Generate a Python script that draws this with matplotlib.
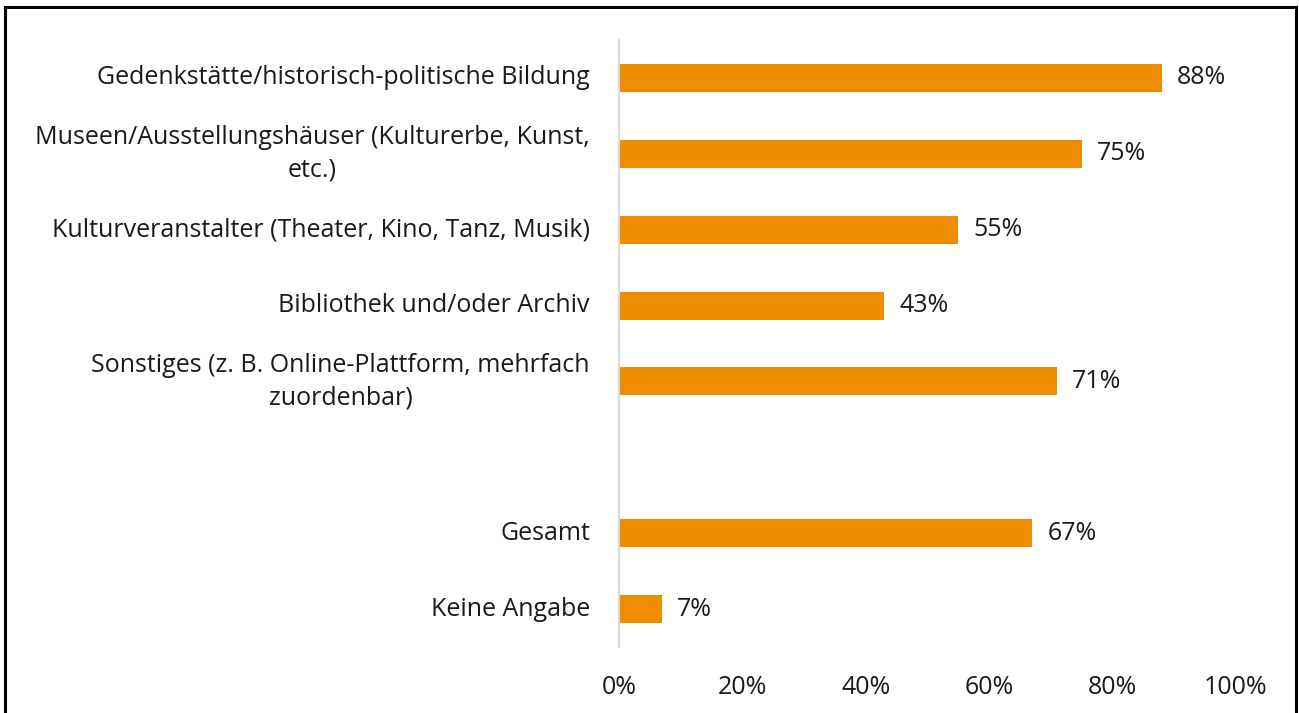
import numpy as np
import matplotlib
matplotlib.use("Agg")
import matplotlib.pyplot as plt
from matplotlib.patches import Rectangle

plt.rcParams['font.family'] = ['Open Sans', 'DejaVu Sans']

# Daten (von oben nach unten), leerer Eintrag = Lücke
categories = [
    "Gedenkstätte/historisch-politische Bildung",
    "Museen/Ausstellungshäuser (Kulturerbe, Kunst,\netc.)",
    "Kulturveranstalter (Theater, Kino, Tanz, Musik)",
    "Bibliothek und/oder Archiv",
    "Sonstiges (z. B. Online-Plattform, mehrfach\nzuordenbar)",
    "",
    "Gesamt",
    "Keine Angabe",
]
values = [88, 75, 55, 43, 71, None, 67, 7]
xticks = [0, 20, 40, 60, 80, 100]
xticklabels = ["0%", "20%", "40%", "60%", "80%", "100%"]

bar_color = "#F08C00"
text_color = "#1a1a1a"
fs = 18

fig = plt.figure(figsize=(12.99, 7.13), dpi=100)
ax = fig.add_axes([0.4765, 0.0926, 0.475, 0.8513])

y = np.arange(len(categories))
for yi, val in zip(y, values):
    if val is None:
        continue
    ax.barh(yi, val, height=0.37, color=bar_color, zorder=2)
    ax.text(val + 2.4, yi, f"{val}%", va="center", ha="left",
            fontsize=fs, color=text_color)

for yi, lab in zip(y, categories):
    if lab:
        ax.text(-4.7, yi, lab, va="center", ha="right", multialignment="center",
                fontsize=fs, color=text_color, linespacing=1.4)

ax.set_ylim(len(categories) - 0.5, -0.5)
ax.set_xlim(0, 100)
ax.set_yticks([])
ax.set_xticks(xticks)
ax.set_xticklabels(xticklabels, fontsize=fs, color=text_color)
ax.tick_params(axis="x", length=0, pad=20)
for s in ["top", "right", "bottom"]:
    ax.spines[s].set_visible(False)
ax.spines["left"].set_color("#d9d9d9")
ax.spines["left"].set_linewidth(1.5)

# Rahmen um die Grafik
fig.patches.append(Rectangle((0.004, -0.02), 0.994, 1.01, transform=fig.transFigure,
                             fill=False, edgecolor="black", linewidth=2.2))

fig.savefig("out.png", dpi=100)
